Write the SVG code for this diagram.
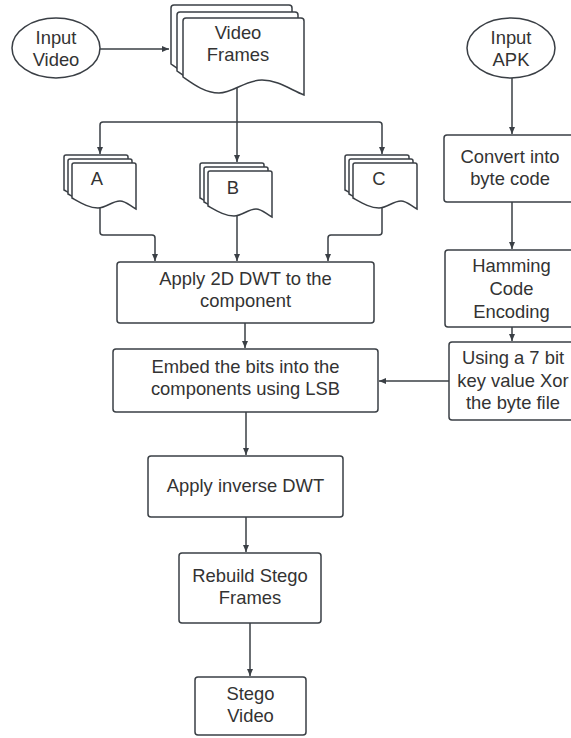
<svg xmlns="http://www.w3.org/2000/svg" xmlns:xlink="http://www.w3.org/1999/xlink" width="571" height="738" viewBox="0 0 571 738">
<style>
.s{fill:#fff;stroke:#3a3f45;stroke-width:1.5}
.c{fill:none;stroke:#3a3f45;stroke-width:1.5}
text{font-family:"Liberation Sans",Arial,sans-serif;font-size:18.4px;fill:#333;text-anchor:middle}
</style>
<defs>
<marker id="ah" markerUnits="userSpaceOnUse" markerWidth="8" markerHeight="7" refX="7" refY="3" orient="auto">
<path d="M0,0 L7,3 L0,6 z" fill="#3a3f45"/>
</marker>
<path id="bdoc" class="s" d="M0,59 V3 Q0,0 3,0 H118 Q121,0 121,3 V77 C108,72 95,62 79,62 C62,62 50,75 36,75 C22,75 10,66 0,59 Z"/>
<path id="sdoc" class="s" d="M0,35 V2 Q0,0 2,0 H62 Q64,0 64,2 V46 C58,43 54,38 48,38 C40,38 34,45 26,45 C17,45 9,40 0,35 Z"/>
</defs>
<g id="connectors">
<path class="c" d="M100,49 H169" marker-end="url(#ah)"/>
<path class="c" d="M237,88 V122"/>
<path class="c" d="M237,122 H103 Q100,122 100,125 V154" marker-end="url(#ah)"/>
<path class="c" d="M237,122 H379 Q382,122 382,125 V154" marker-end="url(#ah)"/>
<path class="c" d="M237,122 V162" marker-end="url(#ah)"/>
<path class="c" d="M100,200 V232 Q100,235 103,235 H152 Q155,235 155,238 V261" marker-end="url(#ah)"/>
<path class="c" d="M237,210 V261" marker-end="url(#ah)"/>
<path class="c" d="M382,200 V232 Q382,235 379,235 H331 Q328,235 328,238 V261" marker-end="url(#ah)"/>
<path class="c" d="M245,323 V348" marker-end="url(#ah)"/>
<path class="c" d="M246,412 V455" marker-end="url(#ah)"/>
<path class="c" d="M246,517 V552" marker-end="url(#ah)"/>
<path class="c" d="M250,623 V676" marker-end="url(#ah)"/>
<path class="c" d="M512,78 V134" marker-end="url(#ah)"/>
<path class="c" d="M512,202 V249" marker-end="url(#ah)"/>
<path class="c" d="M512,327 V341" marker-end="url(#ah)"/>
<path class="c" d="M449,381 H379" marker-end="url(#ah)"/>
</g>
<g id="input-video">
<ellipse class="s" cx="56" cy="48" rx="44" ry="30"/>
<text x="56" y="44">Input</text>
<text x="56" y="66">Video</text>
</g>
<g id="video-frames">
<use xlink:href="#bdoc" x="171" y="5"/>
<use xlink:href="#bdoc" x="177" y="12"/>
<use xlink:href="#bdoc" x="183" y="18"/>
<text x="238" y="39">Video</text>
<text x="238" y="61">Frames</text>
</g>
<g id="doc-a">
<use xlink:href="#sdoc" x="64" y="155"/>
<use xlink:href="#sdoc" x="68" y="159"/>
<use xlink:href="#sdoc" x="72" y="163"/>
<text x="97" y="185">A</text>
</g>
<g id="doc-b">
<use xlink:href="#sdoc" x="200" y="163"/>
<use xlink:href="#sdoc" x="204" y="167"/>
<use xlink:href="#sdoc" x="208" y="171"/>
<text x="233" y="194">B</text>
</g>
<g id="doc-c">
<use xlink:href="#sdoc" x="345" y="155"/>
<use xlink:href="#sdoc" x="349" y="159"/>
<use xlink:href="#sdoc" x="353" y="163"/>
<text x="379" y="185">C</text>
</g>
<g id="apply-dwt">
<rect class="s" x="117" y="262" width="257" height="61" rx="3"/>
<text x="245.5" y="285">Apply 2D DWT to the</text>
<text x="245.5" y="307">component</text>
</g>
<g id="embed">
<rect class="s" x="113" y="349" width="265" height="63" rx="3"/>
<text x="245.5" y="373">Embed the bits into the</text>
<text x="245.5" y="395">components using LSB</text>
</g>
<g id="inverse-dwt">
<rect class="s" x="148" y="456" width="195" height="61" rx="3"/>
<text x="245.5" y="492">Apply inverse DWT</text>
</g>
<g id="rebuild">
<rect class="s" x="179" y="553" width="142" height="70" rx="3"/>
<text x="250" y="582">Rebuild Stego</text>
<text x="250" y="604">Frames</text>
</g>
<g id="stego-video">
<rect class="s" x="195" y="677" width="111" height="58" rx="3"/>
<text x="250.5" y="700">Stego</text>
<text x="250.5" y="722">Video</text>
</g>
<g id="input-apk">
<ellipse class="s" cx="511" cy="48" rx="44" ry="30"/>
<text x="511" y="44">Input</text>
<text x="511" y="66">APK</text>
</g>
<g id="convert">
<rect class="s" x="444" y="135" width="132" height="67" rx="3"/>
<text x="510" y="163">Convert into</text>
<text x="510" y="185">byte code</text>
</g>
<g id="hamming">
<rect class="s" x="445" y="250" width="131" height="77" rx="3"/>
<text x="511.5" y="272">Hamming</text>
<text x="511.5" y="295">Code</text>
<text x="511.5" y="318">Encoding</text>
</g>
<g id="xor">
<rect class="s" x="449" y="342" width="127" height="78" rx="3"/>
<text x="513" y="364">Using a 7 bit</text>
<text x="513" y="387">key value Xor</text>
<text x="513" y="409">the byte file</text>
</g>
</svg>
